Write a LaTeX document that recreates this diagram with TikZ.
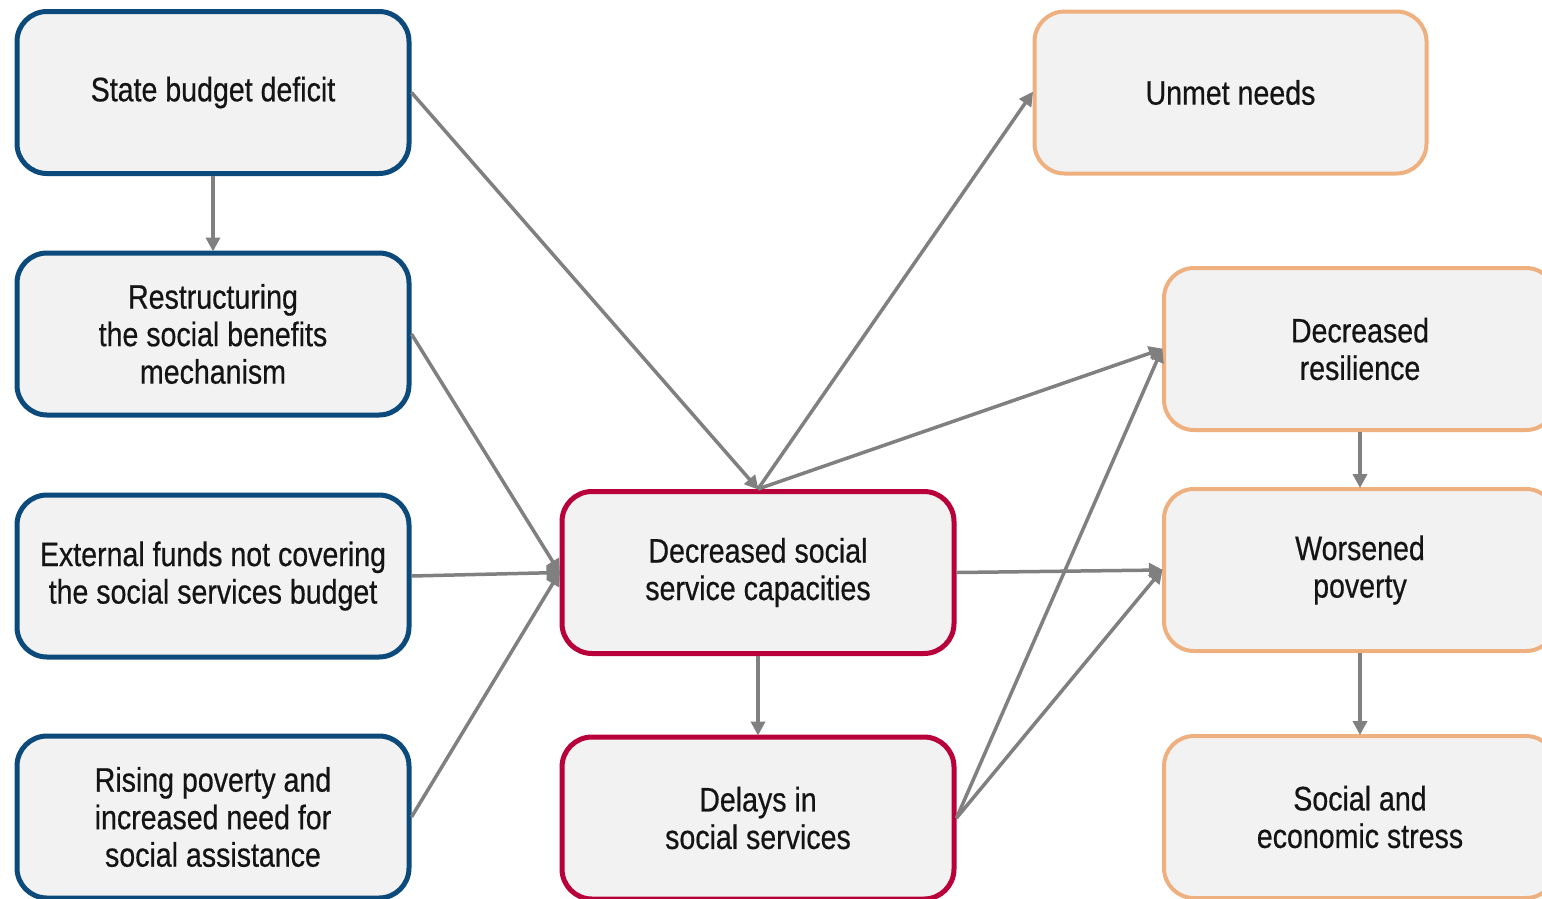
\documentclass[tikz,border=0pt]{standalone}
\usepackage{fontspec}
\setmainfont{Liberation Sans}[FakeStretch=0.84,FakeBold=0.5]
\usetikzlibrary{arrows.meta}
\definecolor{bblue}{HTML}{0B4A7A}
\definecolor{bred}{HTML}{B8003A}
\definecolor{borange}{HTML}{EFB080}
\definecolor{bfill}{HTML}{F2F2F2}
\definecolor{arr}{HTML}{808080}
\definecolor{txt}{HTML}{141414}
\tikzset{
  box/.style={draw, fill=bfill, rounded corners=30pt, minimum width=392pt, minimum height=162pt,
    align=center, inner sep=0pt, text=txt, font=\fontsize{34}{37.5}\selectfont},
  bluebox/.style={box, draw=bblue, line width=5pt},
  redbox/.style={box, draw=bred, line width=5pt},
  orangebox/.style={box, draw=borange, line width=4pt},
  conn/.style={draw=arr, line width=3.5pt, -{Triangle[length=14pt,width=14pt]}, shorten >=-1pt}
}
\begin{document}
\begin{tikzpicture}[x=1pt,y=-1pt]
\useasboundingbox (0,0) rectangle (1542,898);
\clip (0,0) rectangle (1542,898);
\fill[white] (0,0) rectangle (1542,898);
\node[bluebox] (sbd) at (213,92.5) {State budget deficit};
\node[bluebox] (rsb) at (213,334) {Restructuring\\the social benefits\\mechanism};
\node[bluebox] (ext) at (213,576) {External funds not covering\\the social services budget};
\node[bluebox] (rpv) at (213,817) {Rising poverty and\\increased need for\\social assistance};
\node[redbox] (dsc) at (758,572.5) {Decreased social\\service capacities};
\node[redbox] (del) at (758,818) {Delays in\\social services};
\node[orangebox] (unm) at (1230.5,92.5) {Unmet needs};
\node[orangebox] (res) at (1360,349) {Decreased\\resilience};
\node[orangebox] (wor) at (1360,570) {Worsened\\poverty};
\node[orangebox] (soc) at (1360,817) {Social and\\economic stress};
\draw[conn] (sbd.south) -- (rsb.north);
\draw[conn] (sbd.east) -- (dsc.north);
\draw[conn] (rsb.east) -- (dsc.west);
\draw[conn] (ext.east) -- (dsc.west);
\draw[conn] (rpv.east) -- (dsc.west);
\draw[conn] (dsc.north) -- (unm.west);
\draw[conn] (dsc.north) -- (res.west);
\draw[conn] (dsc.east) -- (wor.west);
\draw[conn] (dsc.south) -- (del.north);
\draw[conn] (del.east) -- (res.west);
\draw[conn] (del.east) -- (wor.west);
\draw[conn] (res.south) -- (wor.north);
\draw[conn] (wor.south) -- (soc.north);
\end{tikzpicture}
\end{document}
